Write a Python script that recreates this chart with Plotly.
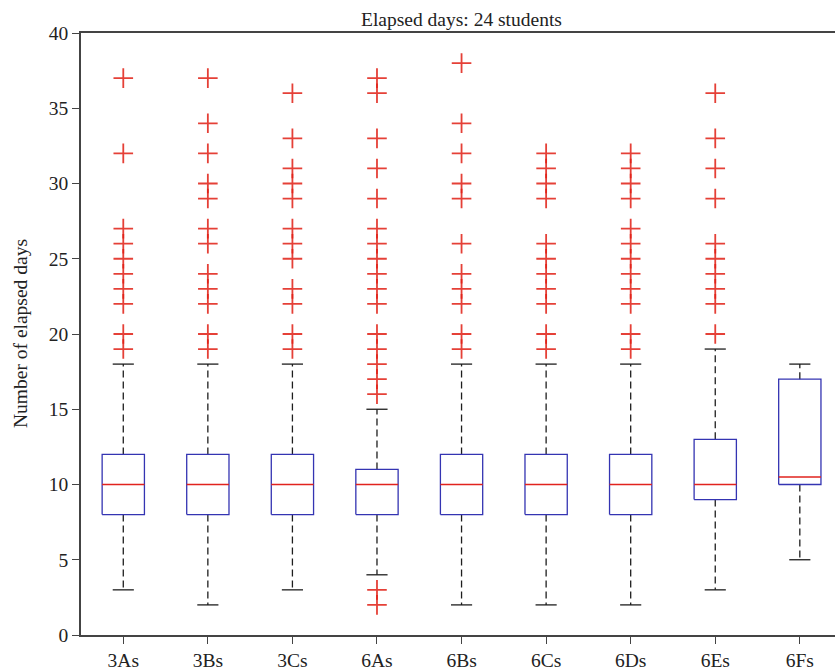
import plotly.graph_objects as go

# Groups and their box statistics (days)
groups = ["3As", "3Bs", "3Cs", "6As", "6Bs", "6Cs", "6Ds", "6Es", "6Fs"]
q1 = [8, 8, 8, 8, 8, 8, 8, 9, 10]
median = [10, 10, 10, 10, 10, 10, 10, 10, 10.5]
q3 = [12, 12, 12, 11, 12, 12, 12, 13, 17]
lower_whisker = [3, 2, 3, 4, 2, 2, 2, 3, 5]
upper_whisker = [18, 18, 18, 15, 18, 18, 18, 19, 18]

# Outliers per group
outliers = {
    "3As": [37, 32, 27, 26, 25, 24, 23, 22, 20, 19],
    "3Bs": [37, 34, 32, 30, 29, 27, 26, 24, 23, 22, 20, 19],
    "3Cs": [36, 33, 31, 30, 29, 27, 26, 25, 23, 22, 20, 19],
    "6As": [37, 36, 33, 31, 29, 27, 26, 25, 24, 23, 22, 20, 19, 18, 17, 16, 3, 2],
    "6Bs": [38, 34, 32, 30, 29, 26, 24, 23, 22, 20, 19],
    "6Cs": [32, 31, 30, 29, 26, 25, 24, 23, 22, 20, 19],
    "6Ds": [32, 31, 30, 29, 27, 26, 25, 24, 23, 22, 20, 19],
    "6Es": [36, 33, 31, 29, 26, 25, 24, 23, 22, 20],
    "6Fs": [],
}

y_ticks = [0, 5, 10, 15, 20, 25, 30, 35, 40]

BOX_HALF = 0.25
CAP_HALF = 0.125
BOX_COLOR = "rgb(52,52,178)"
MED_COLOR = "rgb(225,35,30)"
WHISKER_COLOR = "rgb(30,30,30)"
OUT_COLOR = "rgba(225,30,20,0.85)"
FONT = "Liberation Serif, Times New Roman, serif"
FONT_SIZE = 19.5

fig = go.Figure()

box_x, box_y = [], []
med_x, med_y = [], []
wh_x, wh_y = [], []
cap_x, cap_y = [], []
out_x, out_y = [], []

for i, g in enumerate(groups):
    c = i + 1
    # box outline
    box_x += [c - BOX_HALF, c + BOX_HALF, c + BOX_HALF, c - BOX_HALF, c - BOX_HALF, None]
    box_y += [q1[i], q1[i], q3[i], q3[i], q1[i], None]
    # median
    med_x += [c - BOX_HALF, c + BOX_HALF, None]
    med_y += [median[i], median[i], None]
    # whiskers (dashed)
    wh_x += [c, c, None, c, c, None]
    wh_y += [q3[i], upper_whisker[i], None, q1[i], lower_whisker[i], None]
    # caps
    cap_x += [c - CAP_HALF, c + CAP_HALF, None, c - CAP_HALF, c + CAP_HALF, None]
    cap_y += [upper_whisker[i], upper_whisker[i], None, lower_whisker[i], lower_whisker[i], None]
    for v in outliers[g]:
        out_x.append(c)
        out_y.append(v)

fig.add_trace(go.Scatter(x=wh_x, y=wh_y, mode="lines",
                         line=dict(color=WHISKER_COLOR, width=1.3, dash="7px,4px"),
                         hoverinfo="skip", showlegend=False))
fig.add_trace(go.Scatter(x=cap_x, y=cap_y, mode="lines",
                         line=dict(color=WHISKER_COLOR, width=1.3),
                         hoverinfo="skip", showlegend=False))
fig.add_trace(go.Scatter(x=box_x, y=box_y, mode="lines",
                         line=dict(color=BOX_COLOR, width=1.3),
                         hoverinfo="skip", showlegend=False))
fig.add_trace(go.Scatter(x=med_x, y=med_y, mode="lines",
                         line=dict(color=MED_COLOR, width=1.3),
                         hoverinfo="skip", showlegend=False))
fig.add_trace(go.Scatter(x=out_x, y=out_y, mode="markers",
                         marker=dict(symbol="cross-thin", size=14,
                                     line=dict(color=OUT_COLOR, width=1.8)),
                         showlegend=False))

# Title centred over the full group range
fig.add_annotation(text="Elapsed days: 24 students", x=5, xref="x",
                   y=1, yref="paper", yanchor="bottom", yshift=1,
                   showarrow=False, font=dict(family=FONT, size=FONT_SIZE, color="#222"))

# Vertical axis title
fig.add_annotation(text="Number of elapsed days", x=0, xref="paper", xshift=-61,
                   xanchor="center", y=0.5, yref="paper", yanchor="middle",
                   textangle=-90, showarrow=False,
                   font=dict(family=FONT, size=FONT_SIZE, color="#222"))

fig.update_layout(
    width=835, height=671,
    margin=dict(l=81, r=0, t=33, b=36),
    paper_bgcolor="white", plot_bgcolor="white",
    font=dict(family=FONT, size=FONT_SIZE, color="#222"),
    xaxis=dict(range=[0.5, 9.416], tickmode="array",
               tickvals=list(range(1, len(groups) + 1)), ticktext=groups,
               showgrid=False, zeroline=False, showline=True, mirror=True,
               linecolor="#444", linewidth=1.5, ticks="outside",
               ticklen=7, tickcolor="#444", tickwidth=1.3),
    yaxis=dict(range=[0, 40], tickvals=y_ticks, showgrid=False, zeroline=False,
               showline=True, linecolor="#444", linewidth=1.5,
               ticks="outside", ticklen=7, tickcolor="#444", tickwidth=1.3),
)

fig.write_html("out.html")
